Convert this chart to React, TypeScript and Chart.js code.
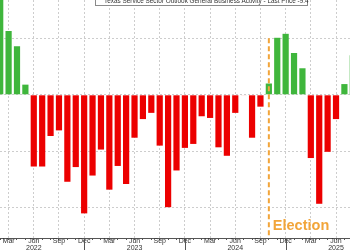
import React, { useEffect, useRef } from "react";
import { Chart, registerables } from "chart.js";

Chart.register(...registerables);

// Monthly readings, Feb 2022 .. Aug 2025
const MONTHS = [
  "Feb 2022", "Mar 2022", "Apr 2022", "May 2022", "Jun 2022", "Jul 2022", "Aug 2022", "Sep 2022", "Oct 2022", "Nov 2022", "Dec 2022",
  "Jan 2023", "Feb 2023", "Mar 2023", "Apr 2023", "May 2023", "Jun 2023", "Jul 2023", "Aug 2023", "Sep 2023", "Oct 2023", "Nov 2023", "Dec 2023",
  "Jan 2024", "Feb 2024", "Mar 2024", "Apr 2024", "May 2024", "Jun 2024", "Jul 2024", "Aug 2024", "Sep 2024", "Oct 2024", "Nov 2024", "Dec 2024",
  "Jan 2025", "Feb 2025", "Mar 2025", "Apr 2025", "May 2025", "Jun 2025", "Jul 2025", "Aug 2025",
];

const VALUES = [
  18.0, 11.3, 8.6, 1.8, -12.7, -12.7, -7.3, -6.3, -15.4, -12.8, -21.0,
  -14.3, -9.7, -16.8, -12.6, -15.8, -7.6, -4.3, -3.2, -9.0, -19.9, -13.4, -9.4,
  -8.7, -3.8, -4.1, -9.3, -10.8, -3.2, -0.1, -7.6, -2.1, 2.0, 10.1, 10.8,
  7.4, 4.7, -11.2, -19.3, -10.1, -4.3, 1.9, 7.0,
];

const LABELED_MONTHS = ["Mar", "Jun", "Sep", "Dec"];
const YEAR_MONTH = "Jun";
const YEAR_END_MONTH = "Dec";
const Y_GRID_VALUES = [-20, -10, 0, 10];
const ELECTION_MONTH = "Oct 2024";
const ELECTION_LABEL = "Election";
const LEGEND_TEXT = "Texas Service Sector Outlook General Business Activity - Last Price -9.4";

const GREEN = "#3fb63c";
const RED = "#ec0000";
const ORANGE = "#f2a53a";
const GRID = "#cdcdcd";
const AXIS = "#555555";
const FONT = "'Liberation Sans', Arial, sans-serif";

export default function App() {
  const ref = useRef<HTMLCanvasElement>(null);

  useEffect(() => {
    const canvas = ref.current;
    if (!canvas) return;

    const overlay = {
      id: "overlay",
      afterDraw(chart: any) {
        const { ctx, chartArea, scales } = chart;
        const xs = scales.x;
        const ys = scales.y;
        ctx.save();
        // long year-separator ticks
        ctx.strokeStyle = AXIS;
        ctx.lineWidth = 1;
        MONTHS.forEach((m, i) => {
          if (m.startsWith(YEAR_END_MONTH)) {
            const x = Math.round(xs.getPixelForValue(i)) + 0.5;
            ctx.beginPath();
            ctx.moveTo(x, chartArea.bottom);
            ctx.lineTo(x, chartArea.bottom + 16);
            ctx.stroke();
          }
        });
        // election marker
        const ex = xs.getPixelForValue(MONTHS.indexOf(ELECTION_MONTH));
        ctx.strokeStyle = ORANGE;
        ctx.lineWidth = 2;
        ctx.setLineDash([5, 3]);
        ctx.beginPath();
        ctx.moveTo(ex, ys.getPixelForValue(10));
        ctx.lineTo(ex, chartArea.bottom);
        ctx.stroke();
        ctx.setLineDash([]);
        ctx.fillStyle = ORANGE;
        ctx.font = `bold 14.5px ${FONT}`;
        ctx.textAlign = "left";
        ctx.textBaseline = "alphabetic";
        ctx.fillText(ELECTION_LABEL, ex + 4, chartArea.bottom - 8);
        ctx.restore();
      },
    };

    const chart = new Chart(canvas, {
      type: "bar",
      data: {
        labels: MONTHS,
        datasets: [
          {
            label: LEGEND_TEXT,
            data: VALUES,
            backgroundColor: VALUES.map((v) => (v >= 0 ? GREEN : RED)),
            borderWidth: 0,
            categoryPercentage: 1,
            barPercentage: 0.74,
          },
        ],
      },
      options: {
        responsive: false,
        animation: false,
        layout: { padding: 0 },
        plugins: { legend: { display: false }, tooltip: { enabled: false } },
        scales: {
          x: {
            offset: true,
            grid: {
              offset: false,
              color: (c: any) => {
                const m = MONTHS[c.index] || "";
                return LABELED_MONTHS.some((p) => m.startsWith(p)) ? GRID : "rgba(0,0,0,0)";
              },
              lineWidth: 1,
              drawTicks: true,
              tickLength: 2,
              tickColor: AXIS,
            },
            border: { display: true, color: AXIS, width: 1, dash: [2, 2] },
            ticks: {
              autoSkip: false,
              maxRotation: 0,
              minRotation: 0,
              padding: -2,
              color: "#333",
              font: { family: FONT, size: 7, lineHeight: 1 },
              callback: (_v: any, i: number) => {
                const [mon, yr] = MONTHS[i].split(" ");
                if (mon === YEAR_MONTH) return [mon, yr];
                return LABELED_MONTHS.includes(mon) ? mon : "";
              },
            },
          },
          y: {
            min: -25.36,
            max: 16.79,
            afterBuildTicks: (axis: any) => {
              axis.ticks = Y_GRID_VALUES.map((v) => ({ value: v }));
            },
            ticks: { display: false },
            grid: { color: GRID, lineWidth: 1, drawTicks: false },
            border: { display: false, dash: [2, 2] },
          },
        },
      },
      plugins: [overlay],
    });

    return () => chart.destroy();
  }, []);

  return (
    <div
      style={{
        position: "fixed",
        left: 0,
        top: 0,
        width: 350,
        height: 250,
        overflow: "hidden",
        background: "#fff",
      }}
    >
      <canvas
        ref={ref}
        width={361}
        height={250}
        style={{ position: "absolute", left: -4, top: 0, display: "block" }}
      />
      <div
        style={{
          position: "absolute",
          left: 95,
          top: -5,
          width: 213,
          height: 11,
          boxSizing: "border-box",
          border: "1px solid #8a8a8a",
          background: "#fff",
          fontFamily: FONT,
          fontSize: 6.4,
          lineHeight: "9px",
          color: "#333",
          whiteSpace: "nowrap",
          display: "flex",
          alignItems: "center",
        }}
      >
        <span
          style={{
            display: "inline-block",
            width: 3,
            height: 1,
            background: "#777",
            marginLeft: 3,
            marginRight: 1,
          }}
        />
        <span
          style={{
            display: "inline-block",
            width: 5,
            height: 5,
            background: GREEN,
            marginRight: 4,
          }}
        />
        <span>{LEGEND_TEXT}</span>
      </div>
    </div>
  );
}
